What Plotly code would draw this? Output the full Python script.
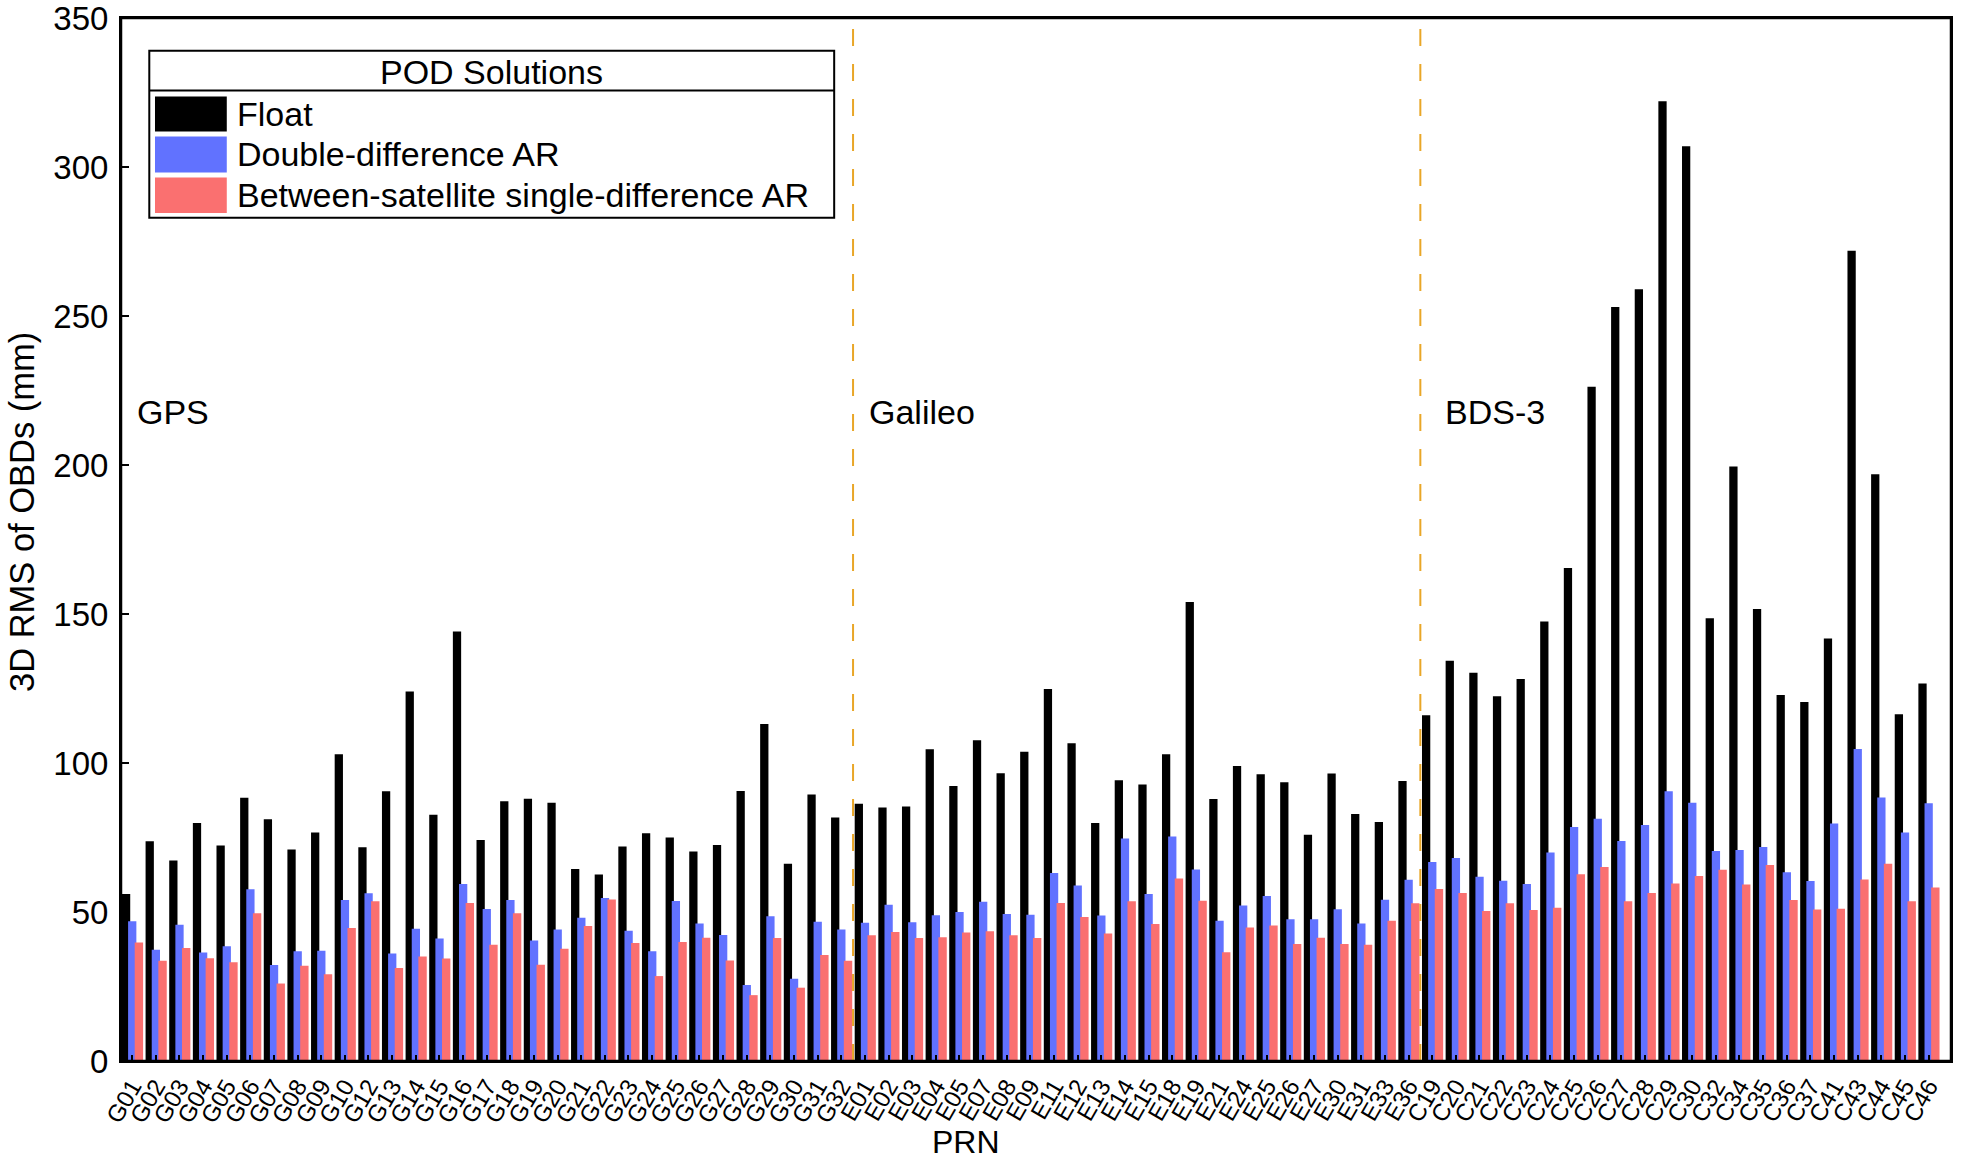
import plotly.graph_objects as go

# ---------------- data ----------------
gps_prn = ["G01", "G02", "G03", "G04", "G05", "G06", "G07", "G08", "G09", "G10",
           "G12", "G13", "G14", "G15", "G16", "G17", "G18", "G19", "G20", "G21",
           "G22", "G23", "G24", "G25", "G26", "G27", "G28", "G29", "G30", "G31", "G32"]
gal_prn = ["E01", "E02", "E03", "E04", "E05", "E07", "E08", "E09", "E11", "E12",
           "E13", "E14", "E15", "E18", "E19", "E21", "E24", "E25", "E26", "E27",
           "E30", "E31", "E33", "E36"]
bds_prn = ["C19", "C20", "C21", "C22", "C23", "C24", "C25", "C26", "C27", "C28",
           "C29", "C30", "C32", "C34", "C35", "C36", "C37", "C41", "C43", "C44",
           "C45", "C46"]

gps_float = [56.0, 73.7, 67.3, 79.9, 72.3, 88.3, 81.1, 71.0, 76.7, 102.9,
             71.7, 90.5, 124.0, 82.6, 144.1, 74.2, 87.2, 88.0, 86.7, 64.4,
             62.6, 72.0, 76.4, 75.0, 70.3, 72.5, 90.6, 113.1, 66.2, 89.4, 81.7]
gps_dd = [46.9, 37.3, 45.7, 36.4, 38.5, 57.6, 32.2, 36.8, 37.0, 54.0,
          56.3, 36.1, 44.4, 41.1, 59.4, 51.0, 54.0, 40.4, 44.1, 48.1,
          54.7, 43.7, 36.8, 53.7, 46.1, 42.3, 25.5, 48.6, 27.6, 46.7, 44.1]
gps_bssd = [39.8, 33.6, 37.9, 34.5, 33.1, 49.6, 26.0, 32.0, 29.1, 44.6,
            53.6, 31.2, 35.1, 34.4, 53.0, 39.0, 49.6, 32.3, 37.7, 45.3,
            54.2, 39.6, 28.5, 39.9, 41.4, 33.7, 22.1, 41.3, 24.6, 35.6, 33.6]

gal_float = [86.3, 85.1, 85.4, 104.6, 92.3, 107.6, 96.6, 103.8, 124.8, 106.6,
             79.9, 94.2, 92.8, 102.9, 154.0, 87.9, 99.0, 96.2, 93.5, 75.9,
             96.5, 82.9, 80.2, 94.0]
gal_dd = [46.4, 52.4, 46.6, 48.9, 50.0, 53.4, 49.3, 49.1, 63.1, 58.9,
          48.8, 74.7, 56.0, 75.3, 64.3, 47.1, 52.2, 55.4, 47.6, 47.6,
          50.9, 46.1, 54.1, 60.8]
gal_bssd = [42.2, 43.3, 41.3, 41.5, 43.1, 43.5, 42.2, 41.3, 53.0, 48.3,
            42.8, 53.6, 46.0, 61.2, 53.8, 36.5, 44.8, 45.5, 39.3, 41.4,
            39.3, 39.0, 47.1, 52.9]

bds_float = [116.0, 134.3, 130.3, 122.4, 128.2, 147.5, 165.4, 226.3, 253.0, 259.0,
             322.1, 307.0, 148.6, 199.5, 151.7, 122.8, 120.5, 141.8, 271.9, 196.9,
             116.4, 126.7]
bds_dd = [66.8, 68.1, 61.8, 60.5, 59.4, 70.0, 78.5, 81.3, 73.8, 79.2,
          90.5, 86.7, 70.5, 70.8, 71.8, 63.3, 60.4, 79.7, 104.7, 88.4,
          76.7, 86.5]
bds_bssd = [57.7, 56.4, 50.3, 52.9, 50.7, 51.4, 62.7, 65.1, 53.6, 56.4,
            59.6, 62.1, 64.2, 59.2, 65.8, 54.0, 50.8, 51.1, 60.9, 66.2,
            53.6, 58.2]

series_names = ["Float", "Double-difference AR", "Between-satellite single-difference AR"]
system_names = ["GPS", "Galileo", "BDS-3"]
y_ticks = [0, 50, 100, 150, 200, 250, 300, 350]

# ---------------- assemble ----------------
prn = gps_prn + gal_prn + bds_prn
vals = [gps_float + gal_float + bds_float,
        gps_dd + gal_dd + bds_dd,
        gps_bssd + gal_bssd + bds_bssd]
colors = ["#000000", "#6172FF", "#FA7070"]
offsets = [-0.43, -0.17, 0.11]
widths = [0.35, 0.35, 0.355]

FONT = "Liberation Sans, Arial, sans-serif"
W, H = 1961, 1166
# plot area in window pixels (page body margin is removed below)
PL, PR, PT, PB = 120.7, 1951.0, 18.3, 1061.3
L, R, T, B = PL, W - PR, PT, H - PB
PW, PH = PR - PL, PB - PT


def px(x):
    return (x - PL) / PW


def py(y):
    return 1 - (y - PT) / PH


fig = go.Figure()
for name, v, c, o, w in zip(series_names, vals, colors, offsets, widths):
    fig.add_trace(go.Bar(x=prn, y=v, name=name, marker=dict(color=c, line=dict(width=0)),
                         offset=o, width=w, showlegend=False))

n_gps, n_gal = len(gps_prn), len(gal_prn)
shapes = []
for b in [n_gps - 0.5, n_gps + n_gal - 0.5]:
    shapes.append(dict(type="line", xref="x", yref="paper", x0=b, x1=b, y0=0, y1=1,
                       line=dict(color="#E9A627", width=2, dash="17px,18px"), layer="above"))

# plot frame
shapes.append(dict(type="rect", xref="paper", yref="paper", x0=0, x1=1, y0=0, y1=1,
                   line=dict(color="black", width=2.5), layer="above"))

# manual legend box
lx0, lx1, ly0, ly1, lsep = 149, 834, 51, 218, 90.7
shapes.append(dict(type="rect", xref="paper", yref="paper", x0=px(lx0), x1=px(lx1),
                   y0=py(ly1), y1=py(ly0), line=dict(color="black", width=2),
                   fillcolor="white", layer="above"))
shapes.append(dict(type="line", xref="paper", yref="paper", x0=px(lx0), x1=px(lx1),
                   y0=py(lsep), y1=py(lsep), line=dict(color="black", width=2), layer="above"))
sw_rows = [(96.7, 131.7), (136.7, 172.7), (177.7, 213.3)]
annotations = []
for (ya, yb), c, name in zip(sw_rows, colors, series_names):
    shapes.append(dict(type="rect", xref="paper", yref="paper", x0=px(154.7), x1=px(226.5),
                       y0=py(yb), y1=py(ya), line=dict(width=0), fillcolor=c, layer="above"))
    annotations.append(dict(xref="paper", yref="paper", x=px(235), y=py((ya + yb) / 2),
                            text=name, showarrow=False, xanchor="left", yanchor="middle",
                            font=dict(family=FONT, size=34, color="black")))
annotations.append(dict(xref="paper", yref="paper", x=px((lx0 + lx1) / 2), y=py(72),
                        text="POD Solutions", showarrow=False, xanchor="center", yanchor="middle",
                        font=dict(family=FONT, size=34, color="black")))

# system labels
for name, xp in zip(system_names, [135, 867, 1443]):
    annotations.append(dict(xref="paper", yref="paper", x=px(xp), y=py(412.5), text=name,
                            showarrow=False, xanchor="left", yanchor="middle",
                            font=dict(family=FONT, size=34, color="black")))

# axis titles
annotations.append(dict(xref="paper", yref="paper", x=px(21), y=py(512), text="3D RMS of OBDs (mm)",
                        textangle=-90, showarrow=False, xanchor="center", yanchor="middle",
                        font=dict(family=FONT, size=34.5, color="black")))
annotations.append(dict(xref="paper", yref="paper", x=px(966), y=py(1142), text="PRN",
                        showarrow=False, xanchor="center", yanchor="middle",
                        font=dict(family=FONT, size=32, color="black")))

fig.update_layout(
    width=W, height=H,
    margin=dict(l=L, r=R, t=T, b=B, pad=0),
    barmode="overlay",
    plot_bgcolor="white", paper_bgcolor="white",
    font=dict(family=FONT, color="black"),
    shapes=shapes, annotations=annotations,
    xaxis=dict(type="category", range=[-0.47, len(prn) - 0.05], showgrid=False,
               tickmode="array", tickvals=prn, ticktext=prn,
               showline=True, linecolor="black", linewidth=2, mirror=True,
               ticks="inside", ticklen=6, tickwidth=2, tickcolor="black",
               tickangle=-60, tickfont=dict(family=FONT, size=24, color="black"),
               automargin=False),
    yaxis=dict(range=[0, 350], tickvals=y_ticks, showgrid=False, zeroline=False,
               showline=True, linecolor="black", linewidth=2, mirror=True,
               ticks="inside", ticklen=8, tickwidth=2, tickcolor="black",
               ticklabelstandoff=4, ticklabeloverflow="allow",
               tickfont=dict(family=FONT, size=33, color="black"), automargin=False),
)

fig.write_html(
    "out.html",
    config={"displayModeBar": False},
    post_script=("document.body.style.margin='0';"
                 "document.body.style.overflow='hidden';"
                 "document.documentElement.style.overflow='hidden';"),
)
